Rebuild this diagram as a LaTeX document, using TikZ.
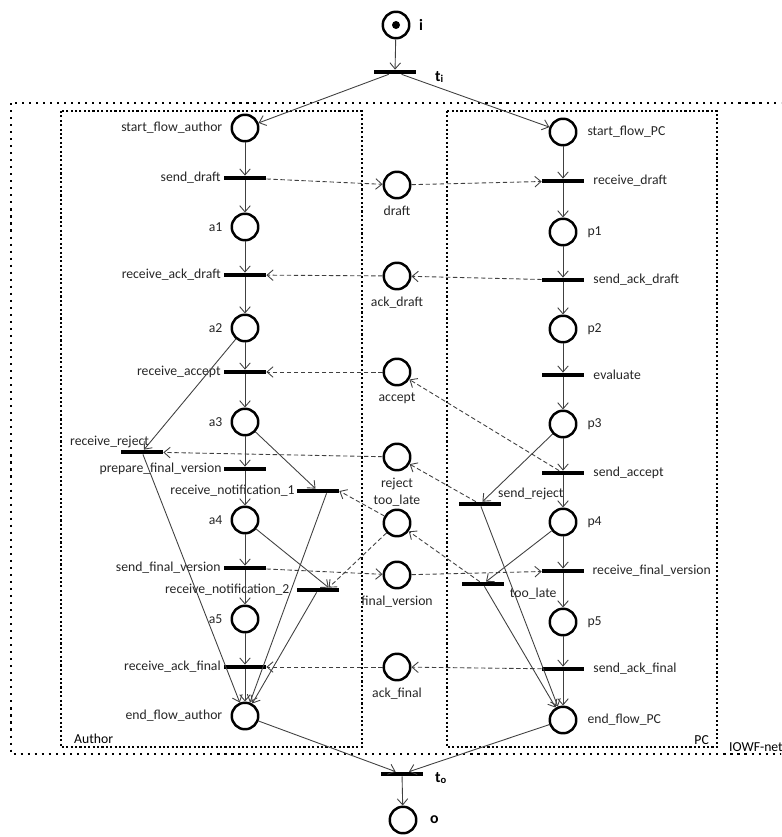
\documentclass[tikz,border=0pt]{standalone}
\usepackage{fontspec}
\setmainfont{Carlito}
\usetikzlibrary{arrows.meta,calc}

\tikzset{
  place/.style={circle, draw, line width=1.4pt, minimum size=0.53cm, inner sep=0pt},
  trans/.style={rectangle, fill=black, minimum width=0.84cm, minimum height=0.08cm, inner sep=0pt},
  arc/.style={-{Straight Barb[length=3.5pt,width=6pt]}, black!75, line width=0.5pt},
  msg/.style={arc, dash pattern=on 2.5pt off 1.5pt},
  box/.style={line width=1.2pt, dash pattern=on 1.2pt off 1.3pt},
  every label/.style={font=\fontsize{7.8}{9}\selectfont, inner sep=1pt, text=black!85},
  lp/.style={label={[label distance=3.5pt]left:#1}},
  rp/.style={label={[label distance=4.5pt]right:#1}},
  lt/.style={label={[label distance=0.5pt]left:#1}},
  rt/.style={label={[label distance=4pt]right:#1}},
  bp/.style={label={[label distance=2.5pt]below:#1}},
  io/.style={font=\fontsize{9}{10}\selectfont\bfseries, anchor=west},
}

\begin{document}
\begin{tikzpicture}[x=0.02cm, y=-0.02cm]
  \useasboundingbox (0,0) rectangle (781,837);
  \clip (0,0) rectangle (781,837);

  %% boxes
  \draw[box, dash pattern=on 1.2pt off 2.8pt] (11,103) rectangle (800,754);
  \draw[box] (61,111) rectangle (362,747);
  \draw[box] (447,111) rectangle (717,747);
  \node[font=\fontsize{7.8}{9}\selectfont, anchor=west] (lauthor) at (68,739) {Author};
  \node[font=\fontsize{7.8}{9}\selectfont, anchor=east] (lpc) at (715,740) {PC};
  \node[font=\fontsize{7.8}{9}\selectfont, anchor=west] (lnet) at (723,747) {IOWF-net};

  %% input / output
  \node[place] (i) at (396,25) {};
  \fill (i) circle (0.08cm);
  \node[io] (li) at (413,25) {i};
  \node[trans] (ti) at (395,72) {};
  \node[io] (lti) at (429,77) {t\textsubscript{i}};
  \node[trans] (to) at (402,774) {};
  \node[io] (lto) at (429,778) {t\textsubscript{o}};
  \node[place] (o) at (403,820) {};
  \node[io] (lo) at (424,820) {o};

  %% Author
  \node[place, lp=start\_flow\_author] (sfa) at (245,128) {};
  \node[trans, lt=send\_draft] (sd) at (245,178) {};
  \node[place, lp=a1] (a1) at (245,227) {};
  \node[trans, lt=receive\_ack\_draft] (rad) at (245,275) {};
  \node[place, lp=a2] (a2) at (245,328) {};
  \node[trans, lt=receive\_accept] (racc) at (245,372) {};
  \node[place, lp=a3] (a3) at (245,422) {};
  \node[trans, label={[anchor=south east, xshift=-7pt]north east:receive\_reject}] (rrej) at (142,452) {};
  \node[trans, label={[label distance=0pt]left:prepare\_final\_version}] (pfv) at (245,469) {};
  \node[trans, label={[label distance=0pt]left:receive\_notification\_1}] (rn1) at (318,491) {};
  \node[place, lp=a4] (a4) at (245,520) {};
  \node[trans, lt=send\_final\_version] (sfv) at (245,568) {};
  \node[trans, label={[label distance=3pt]left:receive\_notification\_2}] (rn2) at (318,590) {};
  \node[place, lp=a5] (a5) at (245,619) {};
  \node[trans, lt=receive\_ack\_final] (raf) at (245,667) {};
  \node[place, lp=end\_flow\_author] (efa) at (245,716) {};

  %% PC
  \node[place, rp=start\_flow\_PC] (sfp) at (563,132) {};
  \node[trans, rt=receive\_draft] (rd) at (563,181) {};
  \node[place, rp=p1] (p1) at (563,232) {};
  \node[trans, rt=send\_ack\_draft] (sad) at (563,280) {};
  \node[place, rp=p2] (p2) at (563,329) {};
  \node[trans, rt=evaluate] (eval) at (563,375) {};
  \node[place, rp=p3] (p3) at (563,424) {};
  \node[trans, rt=send\_accept] (sacc) at (563,473) {};
  \node[trans, label={[anchor=south west, xshift=-3pt]north east:send\_reject}] (srej) at (480,504) {};
  \node[place, rp=p4] (p4) at (563,522) {};
  \node[trans, label={[label distance=3.5pt]right:receive\_final\_version}] (rfv) at (563,571) {};
  \node[trans, label={[anchor=north west, xshift=2pt, label distance=0pt]south east:too\_late}] (tl) at (483,584) {};
  \node[place, rp=p5] (p5) at (563,622) {};
  \node[trans, rt=send\_ack\_final] (saf) at (563,669) {};
  \node[place, rp=end\_flow\_PC] (efp) at (563,720) {};

  %% message places
  \node[place, bp=draft] (draft) at (397,185) {};
  \node[place, bp=ack\_draft] (ackdraft) at (397,276) {};
  \node[place, bp=accept] (accept) at (397,372) {};
  \node[place, bp=reject] (reject) at (397,457) {};
  \node[place, label={[label distance=0pt]above:too\_late}] (toolate) at (397,523) {};
  \node[place, bp=final\_version] (finalv) at (397,575) {};
  \node[place, bp=ack\_final] (ackfinal) at (397,667) {};

  \coordinate (rn1s) at ($(rn1.south)!0.4!(rn1.south east)$);
  \coordinate (rn2n) at ($(rn2.north)!0.5!(rn2.north east)$);

  %% flow arcs
  \draw[arc] (i) -- (ti);
  \draw[arc] (ti) -- (sfa);
  \draw[arc] (ti) -- (sfp);
  \foreach \a/\b in {sfa/sd, sd/a1, a1/rad, rad/a2, a2/racc, racc/a3, a3/pfv, pfv/a4,
                     a4/sfv, sfv/a5, a5/raf, raf/efa,
                     sfp/rd, rd/p1, p1/sad, sad/p2, p2/eval, eval/p3, p3/sacc, sacc/p4,
                     p4/rfv, rfv/p5, p5/saf, saf/efp,
                     a2/rrej, a3/rn1, rrej/efa, p3/srej, p4/tl, srej/efp, tl/efp,
                     efa/to, efp/to, to/o}
    \draw[arc] (\a) -- (\b);
  \draw[arc] (a4) -- (rn2n);
  \draw[arc] (rn1s) -- (efa);
  \draw[arc] (rn2) -- (efa);

  %% messages
  \foreach \a/\b in {sd/draft, draft/rd, sad/ackdraft, ackdraft/rad, sacc/accept, accept/racc,
                     srej/reject, reject/rrej, tl/toolate, sfv/finalv, finalv/rfv,
                     saf/ackfinal, ackfinal/raf}
    \draw[msg] (\a) -- (\b);
  \draw[msg] (toolate) -- (rn1.east);
  \draw[msg] (toolate) -- (rn2n);

\end{tikzpicture}
\end{document}
